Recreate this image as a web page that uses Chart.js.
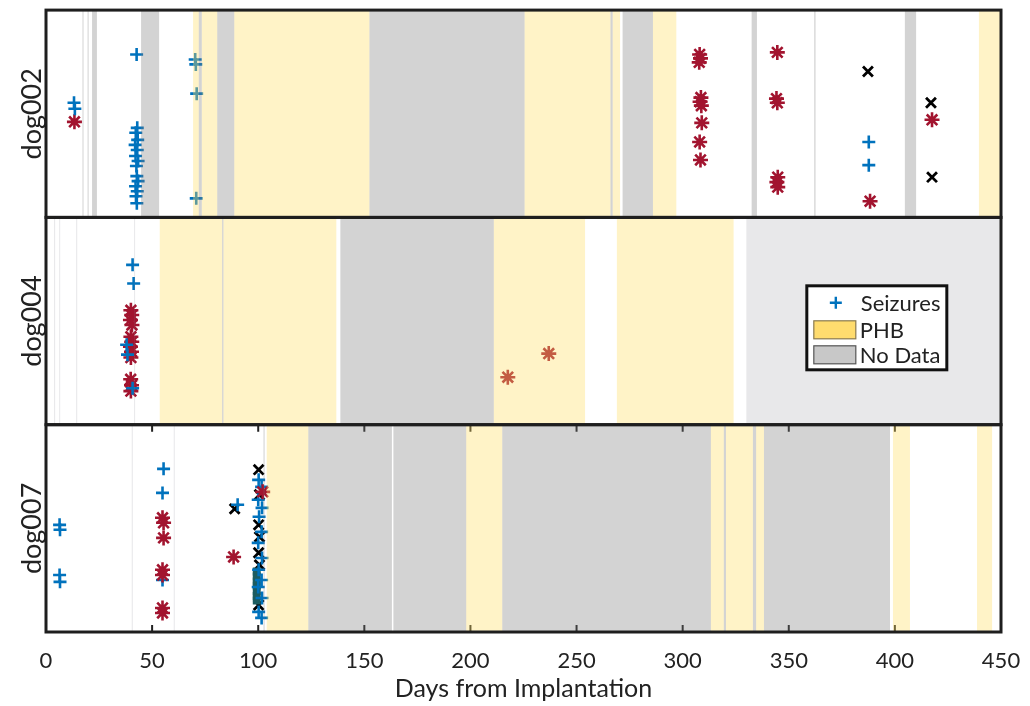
<!doctype html>
<html lang="en">
<head>
    <meta charset="utf-8">
    <title>Seizures and PHB by dog</title>
    <style>
        * {
            margin: 0;
            padding: 0;
        }

        body {
            background: #fff;
        }

        .chartBox {
            width: 1030px;
            height: 706px;
        }
    </style>
</head>
<body>
<div class="chartBox">
    <canvas id="myChart"></canvas>
</div>
<script src="https://cdn.jsdelivr.net/npm/chart.js"></script>
<script>
    // setup
    const dogs = ['dog002', 'dog004', 'dog007'];
    const dayTicks = [0, 50, 100, 150, 200, 250, 300, 350, 400, 450];

    // points: [day, relative position in panel]
    const dog002Seizures = [
        [13.2, 55.3], [13.6, 52.4], [42.7, 78.6],
        [43.0, 43.2], [42.3, 40.8], [43.2, 37.4], [42.0, 35.0], [43.0, 32.5], [42.2, 29.6], [43.4, 27.2],
        [42.6, 24.8], [42.8, 19.9], [43.4, 17.5], [42.2, 15.0], [43.0, 12.6], [42.4, 10.2], [42.8, 6.8],
        [70.3, 76.2], [70.6, 73.8], [71.0, 59.7], [70.8, 9.2],
        [387.7, 36.4], [387.7, 25.2]
    ];
    const dog002Red = [
        [13.4, 46.1],
        [308.0, 78.6], [308.4, 76.7], [307.8, 74.8], [308.6, 57.8], [308.2, 55.8], [308.8, 53.9],
        [309.0, 45.6], [308.0, 36.4], [308.4, 27.7],
        [344.6, 79.6], [344.2, 57.3], [344.6, 55.3], [344.8, 19.4], [344.4, 17.0], [344.8, 14.6],
        [388.3, 7.8], [417.5, 47.1]
    ];
    const dog002Black = [[387.3, 70.4], [417.0, 55.3], [417.5, 19.4]];

    const dog004Seizures = [[40.8, 77.1], [41.3, 68.1], [38.0, 38.6], [38.4, 33.8], [40.8, 17.6]];
    const dog004Red = [
        [40.0, 55.2], [40.4, 52.9], [39.8, 50.5], [40.5, 48.1], [40.0, 42.4], [40.4, 40.0],
        [39.8, 37.6], [40.3, 35.2], [40.0, 32.4], [39.9, 21.9], [40.3, 19.0], [40.0, 16.2],
        [217.6, 22.9], [236.9, 34.3]
    ];
    const dog004Black = [];

    const dog007Seizures = [
        [6.4, 51.7], [6.6, 49.3], [6.4, 27.5], [6.6, 24.2],
        [55.4, 78.7], [54.9, 67.1], [54.9, 25.1], [90.3, 61.4],
        [100.2, 73.4], [101.6, 70.0], [100.0, 63.8], [101.8, 59.9], [100.4, 55.6], [101.6, 48.3], [100.0, 43.0],
        [101.8, 35.7], [100.2, 30.0], [101.6, 25.1], [100.0, 21.7], [101.8, 16.4], [100.2, 9.7], [101.6, 6.8]
    ];
    const dog007Red = [
        [54.9, 55.1], [55.4, 52.7], [55.4, 45.4], [54.9, 30.0], [54.9, 27.5], [54.9, 11.6], [54.9, 9.2],
        [88.4, 36.2], [102.1, 67.6]
    ];
    const dog007Black = [
        [88.9, 59.4], [100.2, 78.3], [100.6, 66.2], [100.2, 51.7], [100.6, 45.9], [100.2, 38.2], [100.6, 32.4], [100.2, 13.0]
    ];
    const dog007Dense = [[99.3, 29.2], [99.3, 26.8], [99.3, 24.4], [99.3, 22.4], [99.3, 19.6], [99.3, 17.4], [99.3, 15.2]];

    // shaded periods: [start day, end day]
    const dog002PHB = [[69.3, 72.0], [73.4, 80.7], [88.7, 152.4], [225.5, 266.0], [267.0, 270.5], [286.0, 297.0], [439.6, 450]];
    const dog002NoData = [[17.2, 17.6], [19.6, 20.0], [21.7, 24.0], [44.8, 53.3], [72.0, 73.4], [80.7, 88.7],
        [152.4, 225.5], [266.0, 267.0], [271.7, 286.0], [332.5, 335.0], [362.0, 362.6], [404.7, 410.0]];
    const dog002Faint = [];

    const dog004PHB = [[53.6, 83.0], [83.6, 136.8], [211.0, 254.0], [269.0, 324.0]];
    const dog004NoData = [[83.0, 83.6], [138.7, 211.0]];
    const dog004Faint = [[3.8, 4.3], [6.2, 6.6], [14.2, 14.7], [41.5, 41.9], [330.0, 450]];

    const dog007PHB = [[104.0, 123.6], [198.0, 215.0], [313.3, 319.4], [320.4, 333.1], [334.6, 338.3], [399.1, 407.1], [438.7, 445.8]];
    const dog007NoData = [[102.5, 103.0], [123.6, 163.0], [163.7, 198.0], [215.0, 313.3], [319.4, 320.4],
        [333.1, 334.6], [338.3, 397.7]];
    const dog007Faint = [[40.4, 40.9], [60.2, 60.6]];

    const seizureColor = '#0072BD';
    const redColor = '#A2142F';
    const phbFill = 'rgba(255, 222, 100, 0.36)';
    const noDataFill = 'rgba(120, 120, 120, 0.33)';
    const faintFill = 'rgba(125, 128, 140, 0.18)';

    const panelBands = [
        {phb: dog002PHB, noData: dog002NoData, faint: dog002Faint},
        {phb: dog004PHB, noData: dog004NoData, faint: dog004Faint},
        {phb: dog007PHB, noData: dog007NoData, faint: dog007Faint}
    ];

    const toPts = arr => arr.map(p => ({x: p[0], y: p[1]}));

    function markerSet(label, pts, axis, style) {
        return Object.assign({
            label: label,
            data: toPts(pts),
            yAxisID: axis,
            showLine: false
        }, style);
    }

    const plusStyle = {pointStyle: 'cross', pointRadius: 6.5, borderWidth: 2.6, borderColor: seizureColor, backgroundColor: seizureColor};
    const starStyle = {pointStyle: 'star', pointRadius: 7.5, borderWidth: 2.6, borderColor: redColor, backgroundColor: redColor};
    const xStyle = {pointStyle: 'crossRot', pointRadius: 7, borderWidth: 2.8, borderColor: '#000', backgroundColor: '#000'};
    const denseStyle = {pointStyle: 'rect', pointRadius: 5.6, borderWidth: 0, borderColor: '#1c5c60', backgroundColor: '#1c5c60'};

    const datasets = [
        markerSet('Seizures', dog002Seizures, 'y0', plusStyle),
        markerSet('Other events', dog002Red, 'y0', starStyle),
        markerSet('Marks', dog002Black, 'y0', xStyle),
        markerSet('Seizures', dog004Seizures, 'y1', plusStyle),
        markerSet('Other events', dog004Red, 'y1', starStyle),
        markerSet('Marks', dog004Black, 'y1', xStyle),
        markerSet('Other events', dog007Red, 'y2', starStyle),
        markerSet('Seizures', dog007Seizures, 'y2', plusStyle),
        markerSet('Dense', dog007Dense, 'y2', denseStyle),
        markerSet('Marks', dog007Black, 'y2', xStyle)
    ];

    const scales = {
        x: {
            type: 'linear',
            min: 0,
            max: 450,
            position: 'bottom',
            afterBuildTicks: s => { s.ticks = dayTicks.map(v => ({value: v})); },
            afterFit: s => { s.height = 74; },
            grid: {display: false},
            border: {display: false},
            ticks: {color: '#222', padding: 8, font: {family: 'Lato', size: 22}},
            title: {display: true, text: 'Days from Implantation', color: '#222', padding: {top: 0, bottom: 2}, font: {family: 'Lato', size: 25}}
        }
    };
    dogs.forEach((name, i) => {
        scales['y' + i] = {
            type: 'linear',
            min: 0,
            max: 100,
            position: 'left',
            stack: 'dogs',
            stackWeight: 1,
            weight: 3 - i,
            afterFit: s => { s.width = 46; },
            grid: {display: false},
            border: {display: false},
            ticks: {display: false},
            title: {display: true, text: name, color: '#222', padding: {top: 16, bottom: 0}, font: {family: 'Lato', size: 27}}
        };
    });

    // ticks of the lowest panel, drawn under the shading
    const innerTicks = {
        id: 'innerTicks',
        beforeDatasetsDraw(chart) {
            const {ctx, scales: {x, y2}} = chart;
            ctx.save();
            ctx.strokeStyle = '#222';
            ctx.lineWidth = 2;
            dayTicks.slice(1, -1).forEach(v => {
                const px = x.getPixelForValue(v);
                ctx.beginPath();
                ctx.moveTo(px, y2.bottom);
                ctx.lineTo(px, y2.bottom - 7);
                ctx.moveTo(px, y2.top);
                ctx.lineTo(px, y2.top + 7);
                ctx.stroke();
            });
            ctx.restore();
        }
    };

    // PHB / No Data periods, laid over the markers
    const periods = {
        id: 'periods',
        afterDatasetsDraw(chart) {
            const {ctx, chartArea: {left, right, width}, scales} = chart;
            const x = scales.x;
            const fillList = (list, color, ys) => {
                ctx.fillStyle = color;
                list.forEach(b => {
                    const x1 = x.getPixelForValue(b[0]);
                    const x2 = x.getPixelForValue(b[1]);
                    ctx.fillRect(x1, ys.top, Math.max(1, x2 - x1), ys.height);
                });
            };
            panelBands.forEach((b, i) => {
                const ys = scales['y' + i];
                ctx.save();
                ctx.beginPath();
                ctx.rect(left, ys.top, width, ys.height);
                ctx.clip();
                fillList(b.faint, faintFill, ys);
                fillList(b.phb, phbFill, ys);
                fillList(b.noData, noDataFill, ys);
                ctx.restore();
            });
            ctx.save();
            ctx.strokeStyle = '#1e1e1e';
            ctx.lineWidth = 3;
            dogs.forEach((d, i) => {
                const ys = scales['y' + i];
                ctx.strokeRect(left, ys.top, right - left, ys.height);
            });
            ctx.restore();
        }
    };

    // legend box inside the dog004 panel
    const boxLegend = {
        id: 'boxLegend',
        afterDraw(chart) {
            const {ctx, scales: {x, y1}} = chart;
            const bx = x.getPixelForValue(358.5);
            const by = y1.getPixelForValue(67);
            const bw = 140, bh = 84;
            ctx.save();
            ctx.fillStyle = '#fff';
            ctx.fillRect(bx, by, bw, bh);
            ctx.strokeStyle = '#111';
            ctx.lineWidth = 3;
            ctx.strokeRect(bx, by, bw, bh);

            ctx.font = '22px Lato';
            ctx.fillStyle = '#222';
            ctx.textBaseline = 'middle';
            const rows = [by + 17, by + 44, by + 69];
            // seizure marker
            ctx.strokeStyle = seizureColor;
            ctx.lineWidth = 2.4;
            ctx.beginPath();
            ctx.moveTo(bx + 23, rows[0]);
            ctx.lineTo(bx + 35, rows[0]);
            ctx.moveTo(bx + 29, rows[0] - 6);
            ctx.lineTo(bx + 29, rows[0] + 6);
            ctx.stroke();
            ctx.fillText('Seizures', bx + 54, rows[0] + 1);
            // swatches
            ctx.lineWidth = 1.2;
            ctx.fillStyle = '#ffdc6e';
            ctx.strokeStyle = '#8a7a50';
            ctx.fillRect(bx + 7, rows[1] - 9, 42, 18);
            ctx.strokeRect(bx + 7, rows[1] - 9, 42, 18);
            ctx.fillStyle = '#c8c8c8';
            ctx.strokeStyle = '#555';
            ctx.fillRect(bx + 7, rows[2] - 9, 42, 18);
            ctx.strokeRect(bx + 7, rows[2] - 9, 42, 18);
            ctx.fillStyle = '#222';
            ctx.fillText('PHB', bx + 53, rows[1] + 1);
            ctx.fillText('No Data', bx + 53, rows[2] + 1);
            ctx.restore();
        }
    };

    // config
    const config = {
        type: 'scatter',
        data: {datasets},
        options: {
            responsive: true,
            maintainAspectRatio: false,
            animation: false,
            events: [],
            layout: {padding: {top: 8, right: 29, bottom: 0, left: 0}},
            plugins: {
                legend: {display: false},
                tooltip: {enabled: false}
            },
            scales
        },
        plugins: [innerTicks, periods, boxLegend]
    };

    // render init block
    const myChart = new Chart(
        document.getElementById('myChart'),
        config
    );
</script>
</body>
</html>
